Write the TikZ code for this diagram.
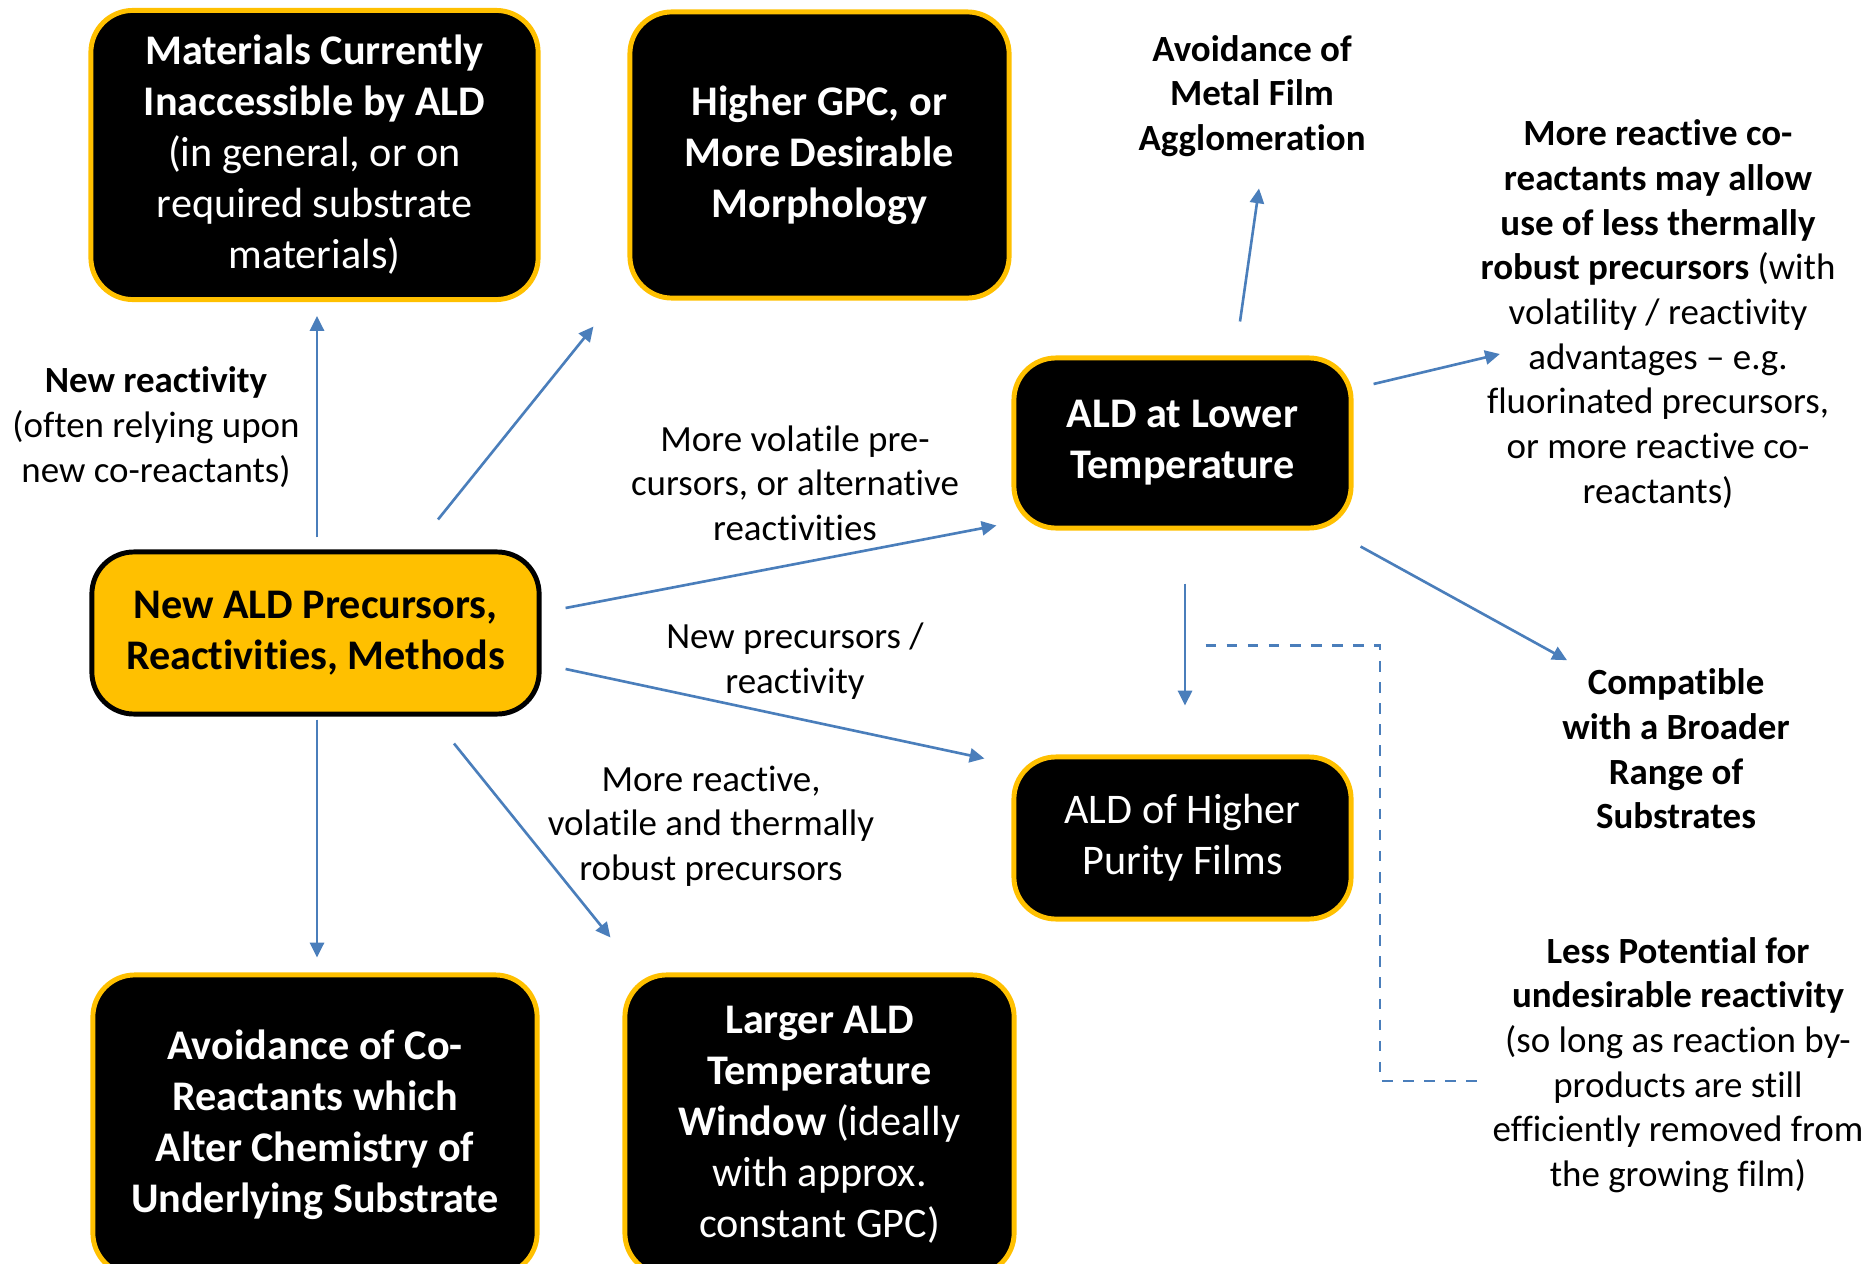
\documentclass[tikz,border=0pt]{standalone}
\usepackage{fontspec}
\setmainfont{Carlito}[RawFeature={-liga;-clig;-calt;-dlig}]
\usetikzlibrary{arrows.meta,calc}

\definecolor{aldyellow}{HTML}{FFC000}
\definecolor{aldblue}{HTML}{4A7EBB}

\tikzset{
  goalbox/.style={draw=aldyellow, fill=black, text=white, line width=1.4pt,
    rounded corners=0.42cm, align=center, font=\fontsize{12}{14.5}\selectfont},
  startbox/.style={draw=black, fill=aldyellow, text=black, line width=1.4pt,
    rounded corners=0.42cm, align=center, font=\fontsize{12}{14.5}\selectfont\bfseries},
  lbl/.style={align=center, inner sep=0pt, font=\fontsize{10.5}{12.7}\selectfont},
  conn/.style={draw=aldblue, line width=0.75pt, ->},
  dashconn/.style={draw=aldblue, line width=0.6pt, dashed}
}

\begin{document}
\begin{tikzpicture}[x=0.01cm, y=-0.01cm, >={Triangle[length=4.2pt,width=4pt]}]
  \useasboundingbox (0,0) rectangle (1870,1264);

  % boxes
  \node[goalbox, minimum width=4.47cm, minimum height=2.89cm] (mat) at (314.5,155)
    {\textbf{Materials Currently}\\ \textbf{Inaccessible by ALD}\\ (in general, or on\\ required substrate\\ materials)};
  \node[goalbox, minimum width=3.79cm, minimum height=2.86cm, font=\fontsize{12}{14.5}\selectfont\bfseries] (gpc) at (819.5,155)
    {Higher GPC, or\\ More Desirable\\ Morphology};
  \node[startbox, minimum width=4.47cm, minimum height=1.62cm] (prec) at (315.5,633)
    {New ALD Precursors,\\ Reactivities, Methods};
  \node[goalbox, minimum width=3.37cm, minimum height=1.70cm, font=\fontsize{12}{14.5}\selectfont\bfseries] (low) at (1182.5,443)
    {ALD at Lower\\ Temperature};
  \node[goalbox, minimum width=3.37cm, minimum height=1.62cm] (pur) at (1182.5,838)
    {ALD of Higher\\ Purity Films};
  \node[goalbox, minimum width=4.44cm, minimum height=3.0cm, font=\fontsize{12}{14.5}\selectfont\bfseries] (coreact) at (315,1125)
    {Avoidance of Co-\\ Reactants which\\ Alter Chemistry of\\ Underlying Substrate};
  \node[goalbox, minimum width=3.89cm, minimum height=3.0cm] (larger) at (819.5,1125)
    {\textbf{Larger ALD}\\ \textbf{Temperature}\\ \textbf{Window} (ideally\\ with approx.\\ constant GPC)};

  % free text
  \node[lbl] (newreact) at (156,427) {\textbf{New reactivity}\\ (often relying upon\\ new co-reactants)};
  \node[lbl] (volatile) at (795,483) {More volatile pre-\\ cursors, or alternative\\ reactivities};
  \node[lbl] (newprec) at (795,661) {New precursors /\\ reactivity};
  \node[lbl] (robust) at (711,826) {More reactive,\\ volatile and thermally\\ robust precursors};
  \node[lbl, font=\fontsize{10.5}{12.7}\selectfont\bfseries] (agglo) at (1252,96) {Avoidance of\\ Metal Film\\ Agglomeration};
  \node[lbl] (rt) at (1658,314) {\textbf{More reactive co-}\\ \textbf{reactants may allow}\\ \textbf{use of less thermally}\\
    \textbf{robust precursors} (with\\ volatility / reactivity\\ advantages -- e.g.\\ fluorinated precursors,\\ or more reactive co-\\ reactants)};
  \node[lbl, font=\fontsize{10.5}{12.7}\selectfont\bfseries] (compat) at (1676,749) {Compatible\\ with a Broader\\ Range of\\ Substrates};
  \node[lbl] (lesspot) at (1678,1065) {\textbf{Less Potential for}\\ \textbf{undesirable reactivity}\\ (so long as reaction by-\\
    products are still\\ efficiently removed from\\ the growing film)};

  % connectors
  \draw[conn] ($(prec.north)+(1.5,-12)$) -- ($(mat.south)+(2.5,14)$);
  \draw[conn] ($(prec.north)+(122.5,-30)$) -- ($(gpc.south west)+(-34,26)$);
  \draw[conn] ($(prec.east)+(24,-25)$) -- ($(low.south west)+(-15,-5)$);
  \draw[conn] ($(prec.east)+(24,36)$) -- ($(pur.north west)+(-27,4)$);
  \draw[conn] ($(prec.south)+(138.5,27)$) -- ($(larger.north west)+(-12,-35)$);
  \draw[conn] ($(prec.south)+(1.5,3)$) -- ($(coreact.north)+(2,-15)$);
  \draw[conn] ($(low.north)+(57.5,-34)$) -- ($(agglo.south)+(7,31)$);
  \draw[conn] ($(low.east)+(20,-59)$) -- ($(rt.west)+(20,40)$);
  \draw[conn] ($(low.south east)+(7,16)$) -- ($(compat.north)+(-109,-8)$);
  \draw[conn] ($(low.south)+(2.5,53)$) -- ($(pur.north)+(2.5,-49)$);
  \draw[dashconn] ($(pur.north east)+(-148,-109)$) -| ($(lesspot.west)+(-112,16)$) -- ($(lesspot.west)+(-10,16)$);
\end{tikzpicture}
\end{document}
